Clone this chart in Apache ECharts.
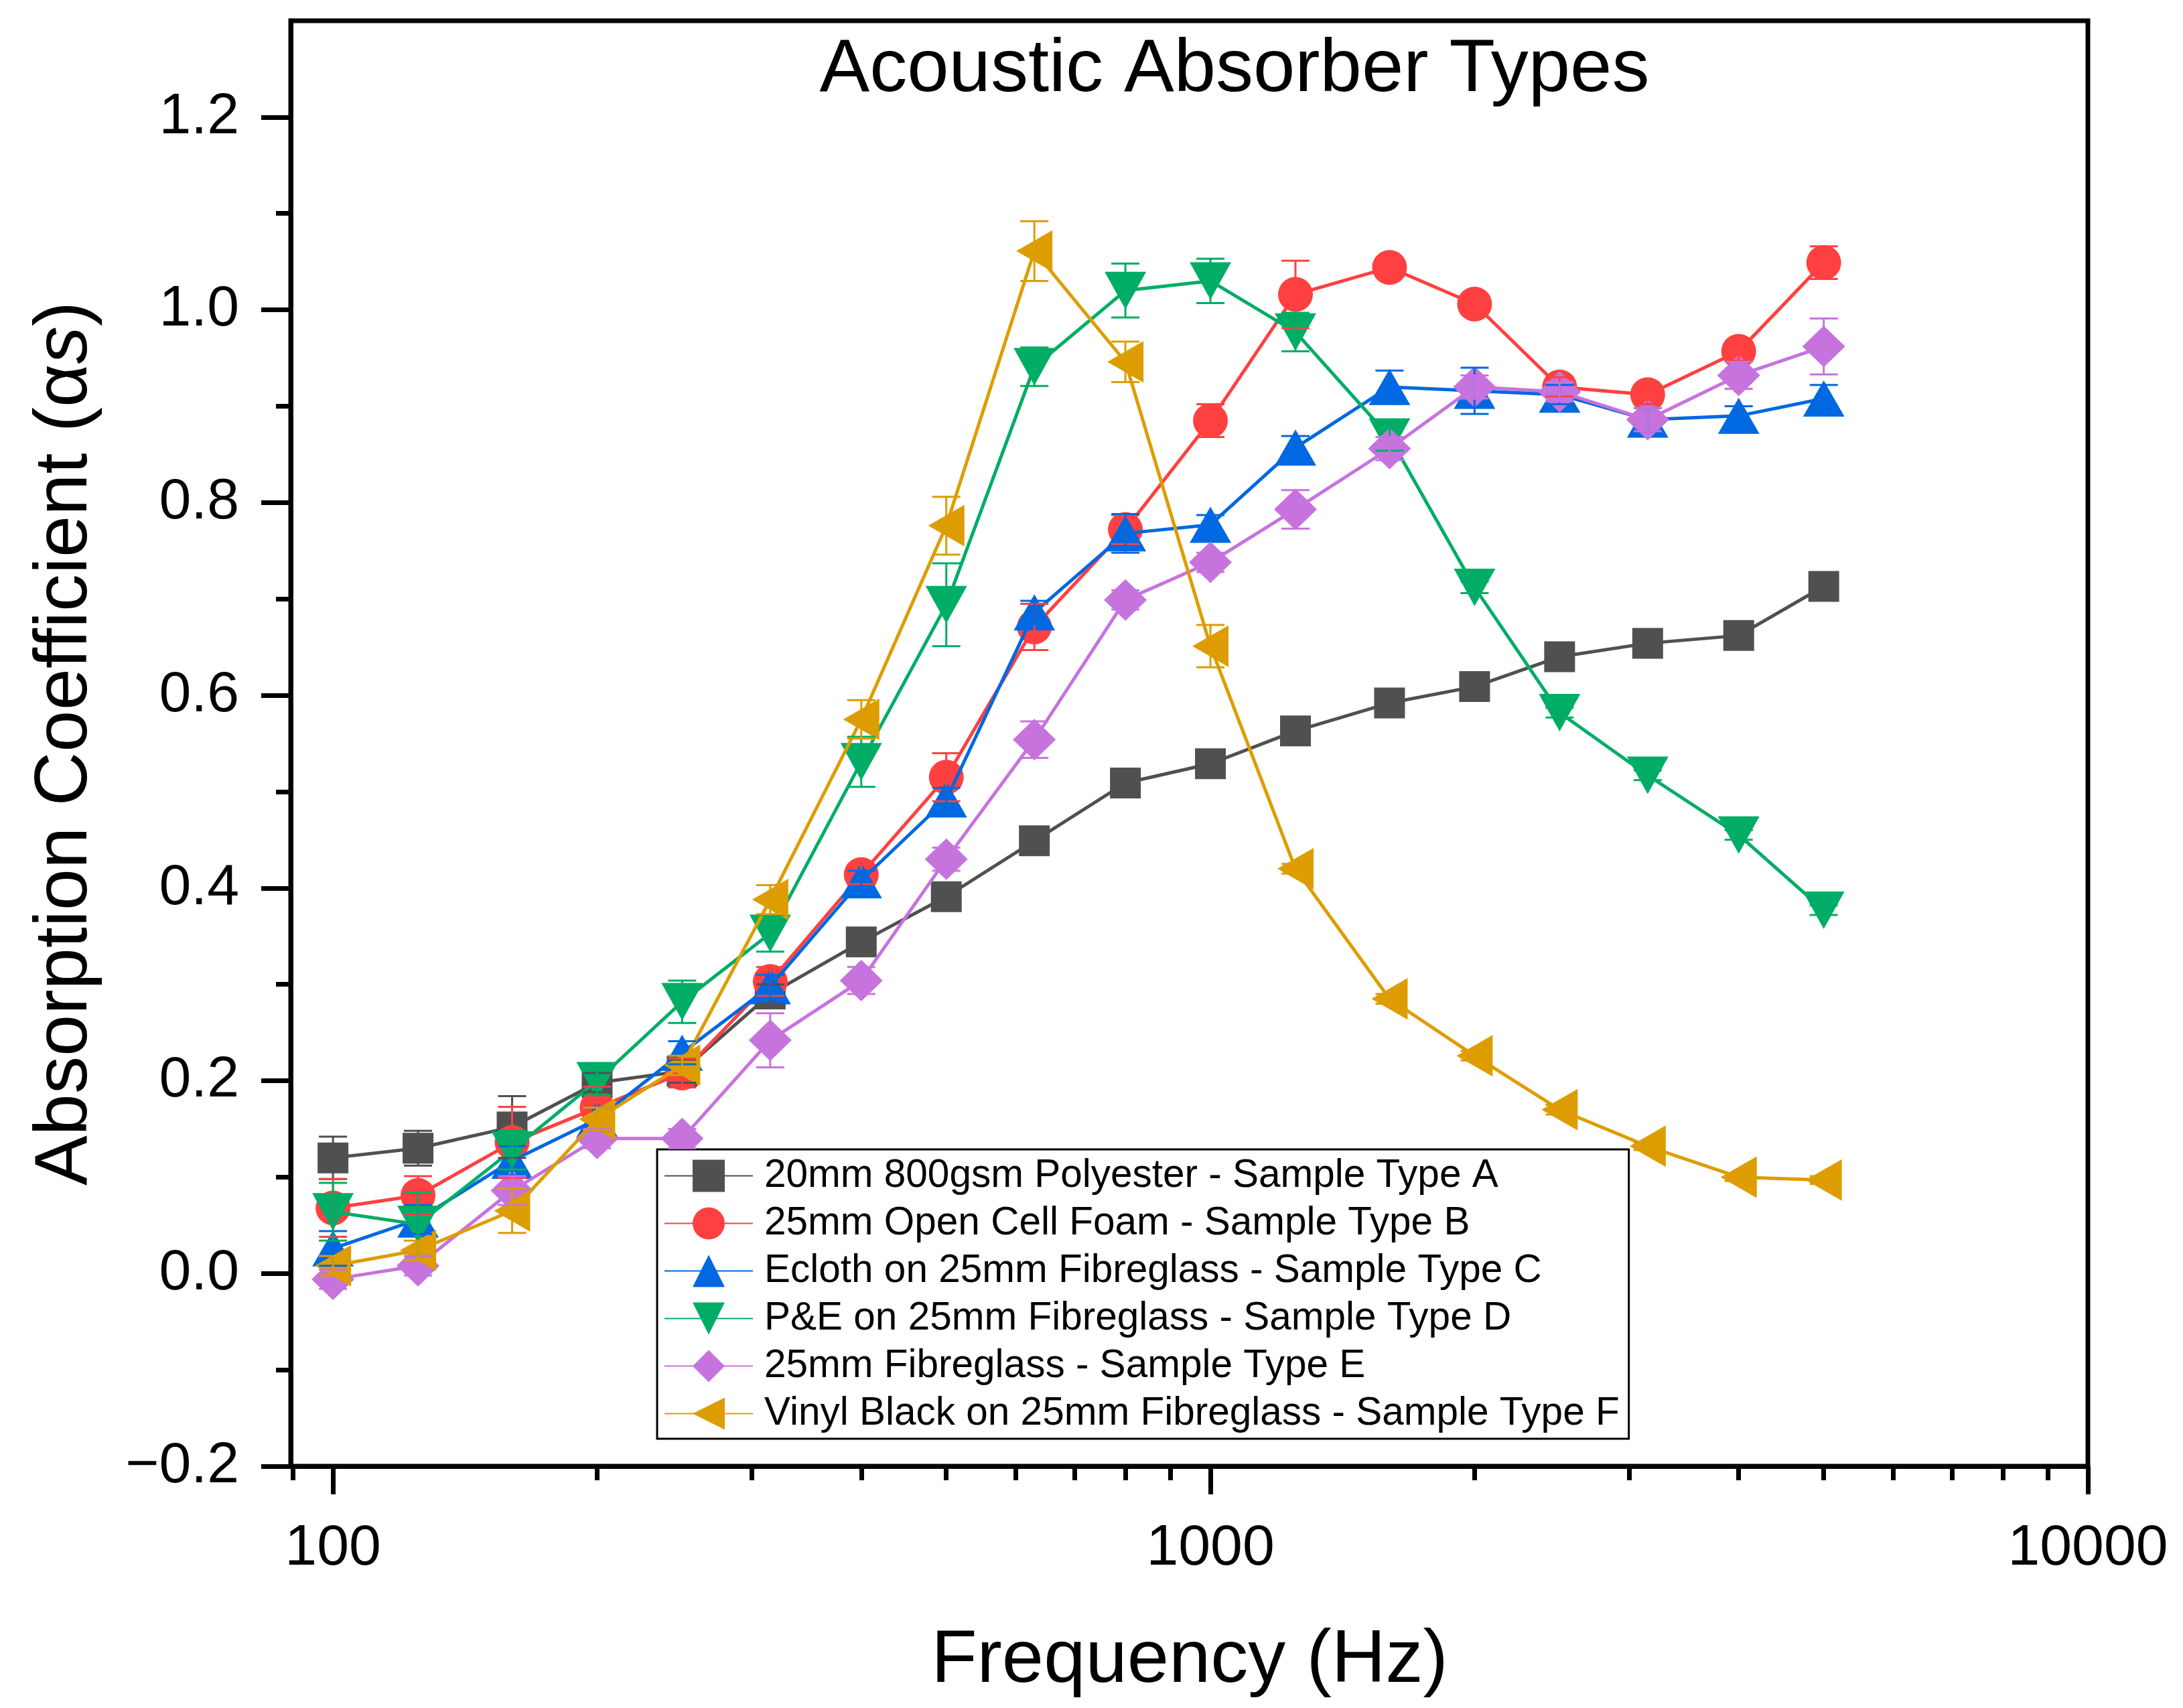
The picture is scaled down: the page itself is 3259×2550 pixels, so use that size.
<!DOCTYPE html>
<html>
<head>
<meta charset="utf-8">
<script src="https://cdn.jsdelivr.net/npm/echarts@6/dist/echarts.min.js"></script>
<style>
html,body{margin:0;padding:0;background:#fff;}
#chart{width:3259px;height:2550px;}
</style>
</head>
<body>
<div id="chart"></div>
<script>
// ---- data ----
const frequencies = [100,125,160,200,250,315,400,500,630,800,1000,1250,1600,2000,2500,3150,4000,5000];
const seriesNames = [
  '20mm 800gsm Polyester - Sample Type A',
  '25mm Open Cell Foam - Sample Type B',
  'Ecloth on 25mm Fibreglass - Sample Type C',
  'P&E on 25mm Fibreglass - Sample Type D',
  '25mm Fibreglass - Sample Type E',
  'Vinyl Black on 25mm Fibreglass - Sample Type F'
];
const typeA = [0.120,0.130,0.152,0.198,0.210,0.290,0.344,0.391,0.449,0.509,0.529,0.563,0.592,0.609,0.640,0.654,0.662,0.713];
const typeB = [0.068,0.081,0.136,0.172,0.208,0.303,0.414,0.515,0.671,0.772,0.885,1.016,1.044,1.006,0.920,0.912,0.957,1.049];
const typeC = [0.026,0.056,0.117,0.160,0.229,0.298,0.408,0.492,0.686,0.768,0.777,0.857,0.920,0.916,0.912,0.886,0.890,0.908];
const typeD = [0.064,0.051,0.128,0.200,0.282,0.353,0.531,0.694,0.941,1.020,1.030,0.977,0.868,0.712,0.582,0.517,0.455,0.377];
const typeE = [-0.006,0.008,0.086,0.140,0.140,0.242,0.304,0.430,0.554,0.699,0.738,0.793,0.856,0.920,0.915,0.886,0.932,0.962];
const typeF = [0.008,0.024,0.065,0.160,0.216,0.388,0.575,0.776,1.061,0.946,0.651,0.420,0.285,0.226,0.170,0.132,0.100,0.097];
const errA = [0.022,0.018,0.032,0.010,0.012,0.010,0.008,0.006,0.006,0.006,0.006,0.005,0.005,0.005,0.005,0.005,0.005,0.005];
const errB = [0.030,0.020,0.037,0.022,0.015,0.015,0.010,0.025,0.024,0.015,0.017,0.035,0.010,0.010,0.010,0.010,0.010,0.017];
const errC = [0.018,0.015,0.015,0.012,0.012,0.012,0.010,0.012,0.012,0.020,0.010,0.012,0.017,0.024,0.010,0.012,0.010,0.014];
const errD = [0.030,0.033,0.020,0.015,0.022,0.019,0.026,0.043,0.020,0.028,0.023,0.020,0.014,0.006,0.005,0.005,0.005,0.005];
const errE = [0.010,0.010,0.015,0.010,0.010,0.028,0.014,0.012,0.019,0.010,0.010,0.020,0.012,0.012,0.010,0.012,0.014,0.029];
const errF = [0.010,0.010,0.023,0.012,0.010,0.015,0.020,0.030,0.031,0.021,0.022,0.005,0.005,0.005,0.005,0.004,0.004,0.004];
const xMajorTicks = [100,1000,10000];
const xMinorTicks = [90,200,300,400,500,600,700,800,900,2000,3000,4000,5000,6000,7000,8000,9000];
const yMajorTicks = [-0.2,0,0.2,0.4,0.6,0.8,1.0,1.2];
const yMinorTicks = [-0.1,0.1,0.3,0.5,0.7,0.9,1.1];

// ---- styles ----
const FONT = '"Liberation Sans", Arial, sans-serif';
const colors = ['#505050','#ff4040','#0068e0','#00ad66','#c673de','#dd9d00'];
const symbols = ['rect','circle','triangle','path://M0,0L10,0L5,9Z','diamond','path://M10,0L10,11L0,5.5Z'];
const symbolSizes = [46,52,[62,54],[62,56],[64,62],[54,62]];
const values = [typeA,typeB,typeC,typeD,typeE,typeF];
const errors = [errA,errB,errC,errD,errE,errF];

function errRender(color){
  return function(params, api){
    const x = api.value(0), y = api.value(1), e = api.value(2);
    const top = api.coord([x, y + e]);
    const bot = api.coord([x, y - e]);
    const hw = 21;
    const style = {stroke: color, lineWidth: 3, fill: null};
    return {type:'group', children:[
      {type:'line', shape:{x1:top[0],y1:top[1],x2:bot[0],y2:bot[1]}, style: style},
      {type:'line', shape:{x1:top[0]-hw,y1:top[1],x2:top[0]+hw,y2:top[1]}, style: style},
      {type:'line', shape:{x1:bot[0]-hw,y1:bot[1],x2:bot[0]+hw,y2:bot[1]}, style: style}
    ]};
  };
}

const series = [];
values.forEach(function(vals, i){
  series.push({
    name: seriesNames[i],
    type: 'line',
    data: frequencies.map(function(f, j){ return [f, vals[j]]; }),
    symbol: symbols[i],
    symbolSize: symbolSizes[i],
    showAllSymbol: true,
    lineStyle: {color: colors[i], width: 5},
    itemStyle: {color: colors[i], borderWidth: 0},
    z: 2 + i * 0.01,
    animation: false
  });
});
values.forEach(function(vals, i){
  series.push({
    name: 'err' + i,
    type: 'custom',
    renderItem: errRender(colors[i]),
    data: frequencies.map(function(f, j){ return [f, vals[j], errors[i][j]]; }),
    encode: {x: 0, y: 1},
    silent: true,
    z: 5,
    animation: false
  });
});

const chart = echarts.init(document.getElementById('chart'), null, {renderer: 'canvas', width: 3259, height: 2550});
const axisLineStyle = {color: '#000', width: 7};
chart.setOption({
  backgroundColor: '#fff',
  animation: false,
  grid: {left: 434, right: 142, top: 31, bottom: 361, show: true, borderColor: '#000', borderWidth: 7, containLabel: false},
  xAxis: [
    {
      type: 'log', logBase: 10, min: 89.5, max: 10000, position: 'bottom',
      axisLine: {show: true, onZero: false, lineStyle: axisLineStyle},
      axisTick: {show: true, customValues: xMajorTicks, length: 42, inside: false, lineStyle: {color: '#000', width: 7}},
      axisLabel: {show: true, customValues: xMajorTicks, fontSize: 86, fontFamily: FONT, color: '#000', margin: 80,
        formatter: function(v){ return String(Math.round(v)); }},
      splitLine: {show: false}, minorTick: {show: false}
    },
    {
      type: 'log', logBase: 10, min: 89.5, max: 10000, position: 'bottom',
      axisLine: {show: false, onZero: false},
      axisTick: {show: true, customValues: xMinorTicks, length: 21, lineStyle: {color: '#000', width: 7}},
      axisLabel: {show: false},
      splitLine: {show: false}
    }
  ],
  yAxis: [
    {
      type: 'value', min: -0.2, max: 1.3, position: 'left',
      axisLine: {show: true, onZero: false, lineStyle: axisLineStyle},
      axisTick: {show: true, customValues: yMajorTicks, length: 44, lineStyle: {color: '#000', width: 7}},
      axisLabel: {show: true, customValues: yMajorTicks, fontSize: 86, fontFamily: FONT, color: '#000', margin: 77,
        formatter: function(v){ return (v < -1e-9 ? '\u2212' : '') + Math.abs(v).toFixed(1); }},
      splitLine: {show: false}
    },
    {
      type: 'value', min: -0.2, max: 1.3, position: 'left',
      axisLine: {show: false, onZero: false},
      axisTick: {show: true, customValues: yMinorTicks, length: 22, lineStyle: {color: '#000', width: 7}},
      axisLabel: {show: false},
      splitLine: {show: false}
    }
  ],
  legend: {
    data: seriesNames,
    orient: 'vertical',
    left: 981, top: 1716,
    padding: [10, 14, 8, 10],
    itemWidth: 132, itemHeight: 60, itemGap: 12,
    borderColor: '#000', borderWidth: 3,
    backgroundColor: '#fff',
    selectedMode: false,
    textStyle: {fontSize: 58.5, fontFamily: FONT, color: '#000', padding: [0, 0, 0, 12]}
  },
  graphic: [
    {type: 'text', x: 1843, y: 105, style: {text: 'Acoustic Absorber Types', font: '112px ' + FONT, fill: '#000', align: 'center', verticalAlign: 'middle'}},
    {type: 'text', x: 1776, y: 2480, style: {text: 'Frequency (Hz)', font: '112px ' + FONT, fill: '#000', align: 'center', verticalAlign: 'middle'}},
    {type: 'text', x: 98, y: 1110, rotation: Math.PI / 2,
      style: {text: '{n|Absorption Coefficient (\u03b1}{i|s}{n|)}', align: 'center', verticalAlign: 'middle',
        rich: {n: {fontSize: 112, fontFamily: FONT, fill: '#000'}, i: {fontSize: 112, fontFamily: FONT, fontStyle: 'italic', fill: '#000'}}}}
  ],
  series: series
});
</script>
</body>
</html>
